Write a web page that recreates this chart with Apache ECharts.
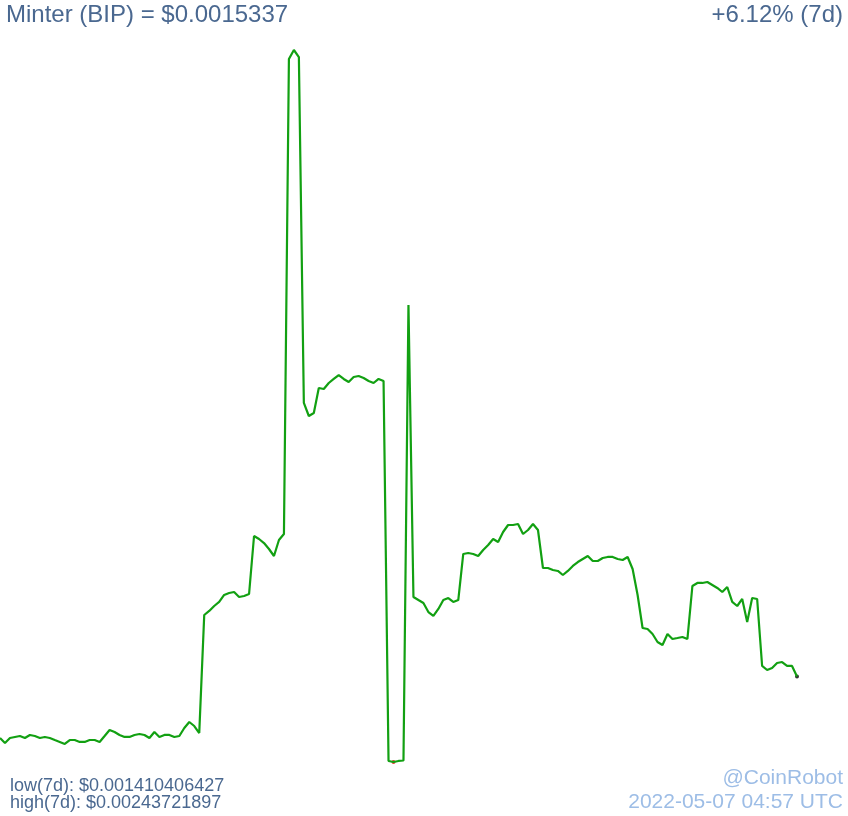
<!DOCTYPE html>
<html>
<head>
<meta charset="UTF-8">
<title>Minter (BIP)</title>
<script src="https://cdn.jsdelivr.net/npm/echarts@6/dist/echarts.min.js"></script>
</head>
<body style="margin:0;background:#fff">
<div id="container" style="width:848px;height:816px"></div>
<script type="text/javascript">
var coinName = 'Minter (BIP)';
var lastPrice = '0.0015337';
var change7d = '+6.12% (7d)';
var low7d = 0.001410406427;
var high7d = 0.00243721897;
var stamp = '2022-05-07 04:57 UTC';

// hourly-ish prices over 7 days
var prices = [
  0.001445, 0.0014378, 0.001445, 0.0014465, 0.0014479, 0.001445, 0.0014494, 0.0014479, 0.001445, 0.0014465,
  0.001445, 0.0014421, 0.0014393, 0.0014364, 0.0014421, 0.0014421, 0.0014393, 0.0014393, 0.0014421, 0.0014421,
  0.0014393, 0.0014479, 0.0014566, 0.0014537, 0.0014494, 0.0014465, 0.0014465, 0.0014494, 0.0014508, 0.0014494,
  0.001445, 0.0014537, 0.0014465, 0.0014494, 0.0014494, 0.0014465, 0.0014479, 0.0014594, 0.0014681, 0.0014623,
  0.0014522, 0.0016224, 0.0016282, 0.0016354, 0.0016412, 0.0016513, 0.0016541, 0.0016556, 0.0016484, 0.0016498,
  0.0016527, 0.0017363, 0.001732, 0.0017262, 0.0017176, 0.0017075, 0.0017306, 0.0017392, 0.0024243, 0.00243721897,
  0.0024271, 0.0019282, 0.0019094, 0.0019137, 0.0019498, 0.0019483, 0.001957, 0.0019628, 0.0019685, 0.0019628,
  0.0019584, 0.0019656, 0.0019671, 0.0019642, 0.0019599, 0.001957, 0.0019628, 0.0019599, 0.0014119, 0.001410406427,
  0.0014119, 0.0014126, 0.0020695, 0.0016484, 0.001644, 0.0016397, 0.0016267, 0.001621, 0.0016311, 0.001644,
  0.0016469, 0.0016412, 0.001644, 0.0017104, 0.0017118, 0.0017104, 0.0017075, 0.0017162, 0.0017234, 0.001732,
  0.0017277, 0.0017421, 0.0017522, 0.0017522, 0.0017536, 0.0017392, 0.001745, 0.0017536, 0.001745, 0.0016902,
  0.0016902, 0.0016873, 0.0016859, 0.0016801, 0.0016859, 0.0016931, 0.0016988, 0.0017032, 0.0017075, 0.0017003,
  0.0017003, 0.0017046, 0.0017061, 0.0017061, 0.0017032, 0.0017017, 0.0017061, 0.0016888, 0.0016513, 0.0016037,
  0.0016022, 0.001595, 0.0015835, 0.0015791, 0.001595, 0.0015878, 0.0015892, 0.0015907, 0.0015878, 0.0016642,
  0.0016686, 0.0016686, 0.00167, 0.0016657, 0.0016614, 0.0016556, 0.0016628, 0.0016412, 0.0016354, 0.0016455,
  0.0016123, 0.0016469, 0.0016455, 0.0015489, 0.0015431, 0.001546, 0.0015532, 0.0015546, 0.0015489, 0.0015489,
  0.0015337
];

var hours = prices.map(function (p, i) { return i; });
var lowIdx = prices.indexOf(Math.min.apply(null, prices));
var lastIdx = prices.length - 1;

var dom = document.getElementById('container');
var myChart = echarts.init(dom, null, { renderer: 'canvas' });

var titleColor = '#4a6890';
var stampColor = '#9dbde6';
var font = 'Liberation Sans, Arial, sans-serif';

var option = {
    animation: false,
    backgroundColor: '#ffffff',
    grid: { left: 0, right: 51, top: 50, bottom: 54 },
    xAxis: {
        type: 'category',
        data: hours,
        boundaryGap: false,
        show: false
    },
    yAxis: {
        type: 'value',
        min: low7d,
        max: high7d,
        show: false
    },
    series: [
        {
            type: 'line',
            data: prices,
            symbol: 'none',
            clip: false,
            lineStyle: { color: '#12a012', width: 2.2 }
        },
        {
            type: 'scatter',
            symbolSize: 4,
            clip: false,
            data: [
                { value: [lowIdx, prices[lowIdx]], itemStyle: { color: '#e00000' } },
                { value: [lastIdx, prices[lastIdx]], itemStyle: { color: '#000000' } }
            ]
        }
    ],
    graphic: [
        { type: 'text', left: 6, top: 3, style: { text: coinName + ' = $' + lastPrice, fill: titleColor, font: '24px ' + font } },
        { type: 'text', right: 5, top: 3, style: { text: change7d, fill: titleColor, font: '24px ' + font } },
        { type: 'text', left: 10, top: 777, style: { text: 'low(7d): $' + low7d, fill: titleColor, font: '18px ' + font } },
        { type: 'text', left: 10, top: 794, style: { text: 'high(7d): $' + high7d, fill: titleColor, font: '18px ' + font } },
        { type: 'text', right: 5, top: 768, style: { text: '@CoinRobot', fill: stampColor, font: '21px ' + font } },
        { type: 'text', right: 5, top: 792, style: { text: stamp, fill: stampColor, font: '21px ' + font } }
    ]
};

myChart.setOption(option);
</script>
</body>
</html>
